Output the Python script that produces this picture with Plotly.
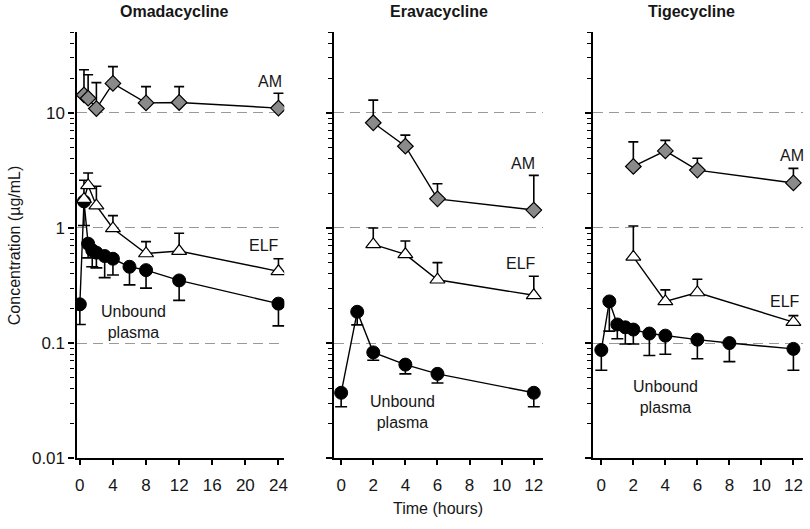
import numpy as np
import plotly.graph_objects as go

panel_titles = ["Omadacycline", "Eravacycline", "Tigecycline"]

# ---------------- Omadacycline ----------------
oma_t_am = [0.5, 1, 2, 4, 8, 12, 24]
oma_am = [14.3, 13.4, 10.9, 18.0, 12.2, 12.3, 11.0]
oma_am_hi = [23.7, 21.4, 18.3, 25.2, 16.9, 16.9, 14.8]
oma_t_elf = [0.5, 1, 2, 4, 8, 12, 24]
oma_elf = [1.78, 2.34, 1.56, 0.99, 0.60, 0.63, 0.42]
oma_elf_hi = [2.6, 3.0, 2.3, 1.28, 0.76, 0.90, 0.54]
oma_t_pl = [0, 0.5, 1, 1.5, 2, 3, 4, 6, 8, 12, 24]
oma_pl = [0.217, 1.70, 0.73, 0.64, 0.61, 0.57, 0.54, 0.46, 0.43, 0.35, 0.22]
oma_pl_lo = [0.145, 1.05, 0.55, 0.46, 0.45, 0.37, 0.39, 0.32, 0.30, 0.235, 0.141]

# ---------------- Eravacycline ----------------
era_t_am = [2, 4, 6, 12]
era_am = [8.2, 5.13, 1.79, 1.43]
era_am_hi = [12.9, 6.4, 2.42, 2.86]
era_t_elf = [2, 4, 6, 12]
era_elf = [0.72, 0.59, 0.355, 0.26]
era_elf_hi = [1.0, 0.77, 0.50, 0.38]
era_t_pl = [0, 1, 2, 4, 6, 12]
era_pl = [0.037, 0.187, 0.083, 0.065, 0.054, 0.037]
era_pl_lo = [0.028, 0.144, 0.071, 0.054, 0.045, 0.028]

# ---------------- Tigecycline ----------------
tig_t_am = [2, 4, 6, 12]
tig_am = [3.42, 4.67, 3.18, 2.46]
tig_am_hi = [5.59, 5.77, 4.03, 3.29]
tig_t_elf = [2, 4, 6, 12]
tig_elf = [0.56, 0.23, 0.275, 0.152]
tig_elf_hi = [1.04, 0.29, 0.358, 0.173]
tig_t_pl = [0, 0.5, 1, 1.5, 2, 3, 4, 6, 8, 12]
tig_pl = [0.087, 0.23, 0.145, 0.137, 0.131, 0.121, 0.116, 0.107, 0.10, 0.089]
tig_pl_lo = [0.058, 0.127, 0.109, 0.098, 0.098, 0.078, 0.080, 0.073, 0.069, 0.058]

y_tick_vals = [0.01, 0.1, 1, 10]
y_tick_text = ["0.01", "0.1", "1", "10"]
x_tick_sets = [[0, 4, 8, 12, 16, 20, 24], [0, 2, 4, 6, 8, 10, 12], [0, 2, 4, 6, 8, 10, 12]]

# label positions (time, log10 concentration)
labels = [
    [("AM", 23.0, 1.27), ("ELF", 22.3, -0.150), ("Unbound<br>plasma", 6.45, -0.82)],
    [("AM", 11.3, 0.556), ("ELF", 11.2, -0.313), ("Unbound<br>plasma", 3.85, -1.60)],
    [("AM", 11.9, 0.627), ("ELF", 11.5, -0.640), ("Unbound<br>plasma", 4.0, -1.466)],
]

panels = [
    (oma_t_am, oma_am, oma_am_hi, oma_t_elf, oma_elf, oma_elf_hi, oma_t_pl, oma_pl, oma_pl_lo),
    (era_t_am, era_am, era_am_hi, era_t_elf, era_elf, era_elf_hi, era_t_pl, era_pl, era_pl_lo),
    (tig_t_am, tig_am, tig_am_hi, tig_t_elf, tig_elf, tig_elf_hi, tig_t_pl, tig_pl, tig_pl_lo),
]

W, H = 810, 529
xdoms = [[76 / W, 285 / W], [335 / W, 545 / W], [596 / W, 807 / W]]
ydom = [1 - 467 / H, 1 - 33 / H]
xranges = [[-0.4, 24.7], [-0.45, 12.55], [-0.5, 12.6]]
title_x = [175 / W, 441 / W, 695 / W]

minor_vals = [m * 10.0 ** e for e in range(-2, 2) for m in range(2, 10) if m * 10.0 ** e <= 50]

FONT = "Liberation Sans, Arial, sans-serif"
TXT = "#161616"
fig = go.Figure()

for i, p in enumerate(panels):
    t_am, am, am_hi, t_elf, elf, elf_hi, t_pl, pl, pl_lo = p
    xa = "x" if i == 0 else f"x{i+1}"
    ya = "y" if i == 0 else f"y{i+1}"
    # unbound plasma (lower error only)
    fig.add_trace(go.Scatter(
        x=t_pl, y=pl, xaxis=xa, yaxis=ya, mode="lines+markers",
        line=dict(color="black", width=1.4),
        marker=dict(symbol="circle", size=13, color="black", line=dict(color="black", width=1)),
        error_y=dict(type="data", symmetric=False,
                     array=[0] * len(pl),
                     arrayminus=[v - lo for v, lo in zip(pl, pl_lo)],
                     color="black", thickness=1.6, width=6),
    ))
    # ELF (upper error only)
    fig.add_trace(go.Scatter(
        x=t_elf, y=elf, xaxis=xa, yaxis=ya, mode="lines+markers",
        line=dict(color="black", width=1.4),
        marker=dict(symbol="triangle-up", size=13, color="white", line=dict(color="black", width=1.2)),
        error_y=dict(type="data", symmetric=False,
                     array=[hi - v for v, hi in zip(elf, elf_hi)],
                     arrayminus=[0] * len(elf),
                     color="black", thickness=1.6, width=5),
    ))
    # AM (upper error only)
    fig.add_trace(go.Scatter(
        x=t_am, y=am, xaxis=xa, yaxis=ya, mode="lines+markers",
        line=dict(color="black", width=1.4),
        marker=dict(symbol="diamond", size=12, color="#8a8a8a", line=dict(color="black", width=1.2)),
        error_y=dict(type="data", symmetric=False,
                     array=[hi - v for v, hi in zip(am, am_hi)],
                     arrayminus=[0] * len(am),
                     color="black", thickness=1.6, width=5),
    ))

    xkey = "xaxis" if i == 0 else f"xaxis{i+1}"
    ykey = "yaxis" if i == 0 else f"yaxis{i+1}"
    fig.update_layout({
        xkey: dict(domain=xdoms[i], range=xranges[i], anchor=ya,
                   tickvals=x_tick_sets[i], ticks="outside", ticklen=5, tickwidth=1.5,
                   tickcolor="black", showline=True, linecolor="black", linewidth=2.2,
                   showgrid=False, zeroline=False, ticklabelstandoff=5,
                   tickfont=dict(family=FONT, size=17, color=TXT)),
        ykey: dict(domain=ydom, type="log", range=[-2, np.log10(50)], anchor=xa,
                   tickvals=y_tick_vals, ticktext=y_tick_text, showticklabels=(i == 0),
                   ticks="outside", ticklen=6, tickwidth=1.5, tickcolor="black",
                   showline=True, linecolor="black", linewidth=2.2,
                   showgrid=True, gridcolor="#999999", gridwidth=1.3, griddash="10px,6px",
                   zeroline=False,
                   minor=dict(tickvals=minor_vals, ticks="outside", ticklen=4,
                              tickwidth=1.2, tickcolor="black", showgrid=False),
                   tickfont=dict(family=FONT, size=17, color=TXT)),
    })

    fig.add_annotation(text=f"<b>{panel_titles[i]}</b>", xref="paper", x=title_x[i],
                       yref="paper", y=1 - 12 / H, xanchor="center", yanchor="middle",
                       showarrow=False, font=dict(family=FONT, size=16, color=TXT))
    for txt, lx, ly in labels[i]:
        fig.add_annotation(text=txt, xref=xa, yref=ya, x=lx, y=ly, showarrow=False,
                           font=dict(family=FONT, size=16, color=TXT))

fig.add_annotation(text="Concentration (µg/mL)", textangle=-90, xref="paper", yref="paper",
                   x=13 / W, y=1 - 250 / H, xanchor="center", yanchor="middle", showarrow=False,
                   font=dict(family=FONT, size=16, color=TXT))
fig.add_annotation(text="Time (hours)", xref="paper", yref="paper",
                   x=440 / W, y=1 - 518 / H, xanchor="center", yanchor="middle", showarrow=False,
                   font=dict(family=FONT, size=16, color=TXT))

fig.update_layout(width=W, height=H, margin=dict(l=0, r=0, t=0, b=0),
                  paper_bgcolor="white", plot_bgcolor="white", showlegend=False,
                  font=dict(family=FONT, size=14, color=TXT))

fig.write_html("out.html", config={"displayModeBar": False},
               post_script="document.body.style.margin='0px';document.body.style.overflow='hidden';")
